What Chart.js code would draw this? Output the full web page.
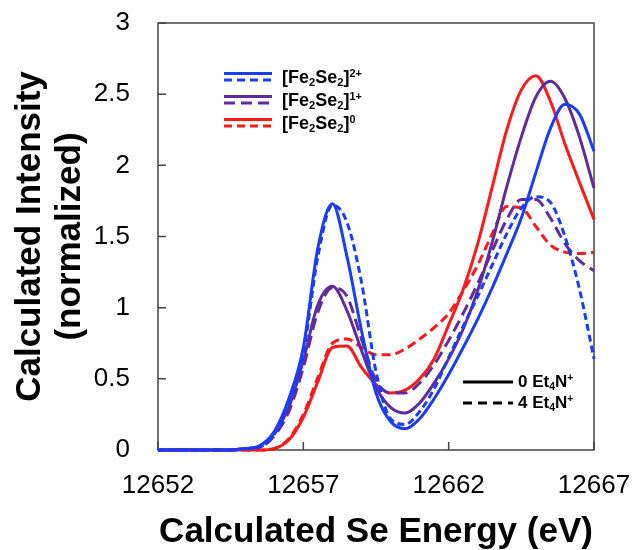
<!DOCTYPE html>
<html>
<head>
<meta charset="utf-8">
<script src="https://cdn.jsdelivr.net/npm/chart.js@4.4.0/dist/chart.umd.min.js"></script>
<style>
  body { margin: 0; background: #fff; }
  #wrap { position: relative; width: 635px; height: 550px; }
  .lg { position: absolute; font-family: "Liberation Sans", Arial, sans-serif; font-weight: bold; color: #000; white-space: nowrap; }
  .lg sub { font-size: 0.62em; vertical-align: -0.3em; line-height: 0; }
  .lg sup { font-size: 0.6em; vertical-align: 0.6em; line-height: 0; }
  svg.sw { position: absolute; }
</style>
</head>
<body>
<div id="wrap">
  <canvas id="myChart" width="635" height="550"></canvas>
</div>
<script>
// energy grid (eV) and calculated intensities
var energy = [12652, 12652.5, 12653, 12653.5, 12654, 12654.5, 12655, 12655.5, 12656, 12656.5,
  12657, 12657.5, 12658, 12658.5, 12659, 12659.5, 12660, 12660.5, 12661, 12661.5,
  12662, 12662.5, 12663, 12663.5, 12664, 12664.5, 12665, 12665.5, 12666, 12666.5, 12667];

var blue0 = [0, 0, 0, 0, 0, 0, 0.01, 0.03, 0.13, 0.36, 0.72, 1.42, 1.73, 1.36, 0.84, 0.40,
  0.20, 0.15, 0.22, 0.36, 0.53, 0.72, 0.92, 1.14, 1.38, 1.63, 1.95, 2.26, 2.43, 2.36, 2.10];
var blue4 = [0, 0, 0, 0, 0, 0, 0.01, 0.02, 0.11, 0.33, 0.68, 1.36, 1.72, 1.60, 1.18, 0.55,
  0.22, 0.18, 0.27, 0.43, 0.65, 0.87, 1.08, 1.30, 1.52, 1.70, 1.78, 1.74, 1.50, 1.13, 0.64];
var purple0 = [0, 0, 0, 0, 0, 0, 0.01, 0.03, 0.12, 0.30, 0.63, 1.02, 1.15, 0.98, 0.70, 0.44,
  0.30, 0.26, 0.33, 0.47, 0.64, 0.85, 1.12, 1.46, 1.85, 2.20, 2.48, 2.59, 2.47, 2.20, 1.84];
var purple4 = [0, 0, 0, 0, 0, 0, 0.01, 0.02, 0.10, 0.27, 0.58, 0.97, 1.14, 1.08, 0.78, 0.49,
  0.40, 0.40, 0.47, 0.60, 0.77, 0.96, 1.17, 1.40, 1.62, 1.76, 1.76, 1.63, 1.45, 1.33, 1.26];
var red0 = [0, 0, 0, 0, 0, 0, 0, 0, 0.01, 0.07, 0.23, 0.48, 0.72, 0.73, 0.58, 0.46,
  0.40, 0.42, 0.50, 0.64, 0.88, 1.13, 1.45, 1.85, 2.25, 2.53, 2.63, 2.45, 2.15, 1.88, 1.62];
var red4 = [0, 0, 0, 0, 0, 0, 0, 0, 0.01, 0.08, 0.25, 0.51, 0.75, 0.78, 0.72, 0.67,
  0.67, 0.71, 0.78, 0.86, 0.96, 1.12, 1.30, 1.52, 1.71, 1.70, 1.57, 1.44, 1.39, 1.38, 1.39];

var xTicks = [12652, 12657, 12662, 12667];
var yTicks = [0, 0.5, 1, 1.5, 2, 2.5, 3];

var BLUE = "rgb(25, 60, 255)";
var PURPLE = "rgb(95, 45, 155)";
var RED = "rgb(255, 25, 25)";

function pts(vals) {
  return vals.map(function (v, i) { return { x: energy[i], y: v }; });
}

function line(vals, color, dash) {
  return {
    data: pts(vals),
    borderColor: color,
    borderWidth: 3,
    borderDash: dash || [],
    pointRadius: 0,
    fill: false,
    cubicInterpolationMode: "monotone",
    clip: 3
  };
}

// box round the plot and inward tick marks
var frame = {
  id: "frame",
  beforeDatasetsDraw: function (chart) {
    var ctx = chart.ctx, a = chart.chartArea;
    var x = chart.scales.x, y = chart.scales.y;
    ctx.save();
    ctx.strokeStyle = "#444";
    ctx.lineWidth = 1.5;
    ctx.strokeRect(a.left, a.top, a.right - a.left, a.bottom - a.top);
    ctx.beginPath();
    xTicks.forEach(function (v) {
      var px = x.getPixelForValue(v);
      ctx.moveTo(px, a.bottom);
      ctx.lineTo(px, a.bottom - 8);
    });
    yTicks.forEach(function (v) {
      var py = y.getPixelForValue(v);
      ctx.moveTo(a.left, py);
      ctx.lineTo(a.left + 8, py);
    });
    ctx.stroke();
    ctx.restore();
  }
};

var ctx = document.getElementById("myChart");
var chart = new Chart(ctx, {
  type: "line",
  data: {
    datasets: [
      line(blue0, BLUE),
      line(blue4, BLUE, [7, 4]),
      line(purple0, PURPLE),
      line(purple4, PURPLE, [12, 6]),
      line(red0, RED),
      line(red4, RED, [9, 5])
    ]
  },
  options: {
    responsive: false,
    animation: false,
    layout: { padding: { top: 23, right: 41, left: 0, bottom: 0 } },
    plugins: { legend: { display: false }, tooltip: { enabled: false } },
    scales: {
      x: {
        type: "linear",
        min: 12652,
        max: 12667,
        afterBuildTicks: function (s) { s.ticks = xTicks.map(function (v) { return { value: v }; }); },
        afterFit: function (s) {
          s.height = 100;
          s.paddingLeft = 0; s.paddingRight = 0;
        },
        grid: { display: false, drawTicks: false },
        border: { display: false },
        ticks: {
          padding: 20,
          color: "#000",
          font: { family: "Liberation Sans", size: 26 },
          callback: function (v) { return String(v); }
        },
        title: {
          display: true,
          text: "Calculated Se Energy (eV)",
          color: "#000",
          padding: 0,
          font: { family: "Liberation Sans", size: 35, weight: "bold", lineHeight: 1 }
        }
      },
      y: {
        min: 0,
        max: 3,
        afterBuildTicks: function (s) { s.ticks = yTicks.map(function (v) { return { value: v }; }); },
        afterFit: function (s) {
          s.width = 158;
          s.paddingTop = 0; s.paddingBottom = 0;
        },
        grid: { display: false, drawTicks: false },
        border: { display: false },
        ticks: {
          padding: 28,
          color: "#000",
          font: { family: "Liberation Sans", size: 26 },
          callback: function (v) { return String(v); }
        },
        title: {
          display: true,
          text: ["Calculated Intensity", "(normalized)"],
          color: "#000",
          padding: { top: 10, bottom: 0 },
          font: { family: "Liberation Sans", size: 35, weight: "bold", lineHeight: 1.143 }
        }
      }
    }
  },
  plugins: [frame]
});

// legends, drawn as HTML so the sub- and superscripts are real text
var wrap = document.getElementById("wrap");

function swatch(left, top, w, rows) {
  var s = '<svg class="sw" width="' + w + '" height="14" style="left:' + left + 'px;top:' + top + 'px">';
  rows.forEach(function (r) {
    s += '<line x1="0" x2="' + w + '" y1="' + r.y + '" y2="' + r.y + '" stroke="' + r.c +
      '" stroke-width="3"' + (r.d ? ' stroke-dasharray="' + r.d + '"' : '') + '/>';
  });
  return s + '</svg>';
}

function label(left, top, size, html) {
  return '<div class="lg" style="left:' + left + 'px;top:' + top + 'px;font-size:' + size +
    'px;line-height:20px">' + html + '</div>';
}

var fe = "[Fe<sub>2</sub>Se<sub>2</sub>]";
var species = [
  { c: BLUE, d: "8,5", t: fe + "<sup>2+</sup>", cy: 77 },
  { c: PURPLE, d: "11,6", t: fe + "<sup>1+</sup>", cy: 100 },
  { c: RED, d: "8,5", t: fe + "<sup>0</sup>", cy: 123 }
];
var html = "";
species.forEach(function (s) {
  html += swatch(224, s.cy - 7, 48, [{ y: 3.5, c: s.c }, { y: 10, c: s.c, d: s.d }]);
  html += label(282, s.cy - 10, 18, s.t);
});
html += swatch(463, 375, 50, [{ y: 7, c: "#000" }]);
html += label(518, 372, 17, "0 Et<sub>4</sub>N<sup>+</sup>");
html += swatch(463, 396, 50, [{ y: 7, c: "#000", d: "9,6" }]);
html += label(518, 393, 17, "4 Et<sub>4</sub>N<sup>+</sup>");
wrap.insertAdjacentHTML("beforeend", html);
</script>
</body>
</html>
